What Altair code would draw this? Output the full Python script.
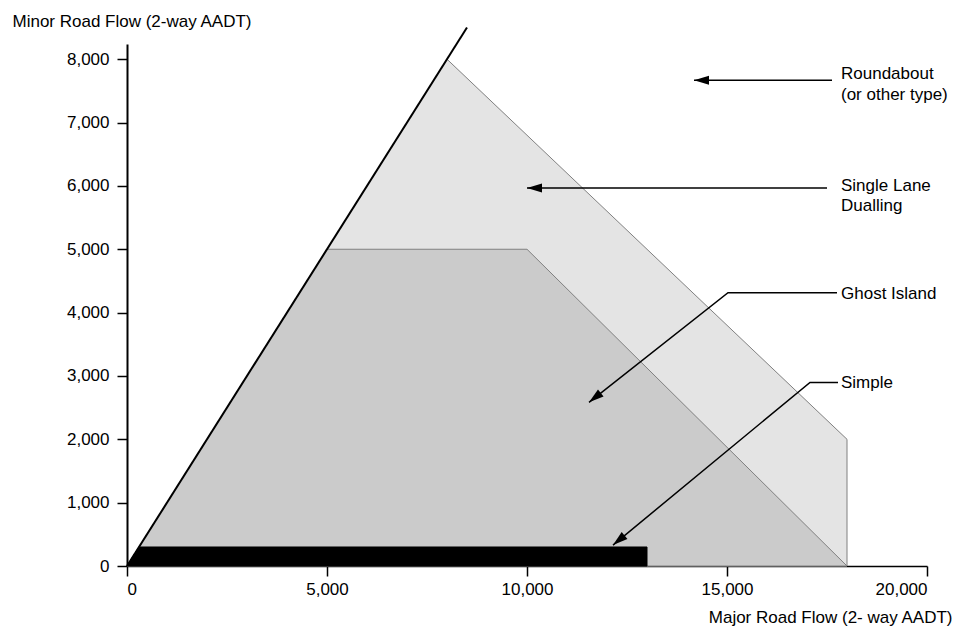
import math
import altair as alt
import pandas as pd

FONT = "Liberation Sans"

# ---- axis ticks ----
x_ticks = [0, 5000, 10000, 15000, 20000]
y_ticks = [0, 1000, 2000, 3000, 4000, 5000, 6000, 7000, 8000]

# ---- junction-type regions (upper boundary of each, lower boundary is 0) ----
dualling_x = [0, 8000, 18000]
dualling_y = [0, 8000, 2000]
ghost_x = [0, 5000, 10000, 18000]
ghost_y = [0, 5000, 5000, 0]
simple_x = [0, 300, 13000]
simple_y = [0, 300, 300]
limit_x = [0, 8500]
limit_y = [0, 8500]

# ---- labels ----
label_text = ["Roundabout", "(or other type)", "Single Lane", "Dualling", "Ghost Island", "Simple"]
label_x = [17850, 17850, 17850, 17850, 17850, 17850]
label_y = [7685, 7354, 5921, 5606, 4220, 2803]

# ---- arrows (polyline vertices, last one is the tip) ----
arrow_names = ["roundabout", "dualling", "ghost", "simple"]
arrow_x = [[17625, 14175], [17500, 10000], [17750, 15025, 11550], [17775, 17075, 12150]]
arrow_y = [[7669, 7669], [5968, 5968], [4315, 4315, 2583], [2898, 2898, 330]]

X_MAX, Y_MAX = 20000, 8240
W, H = 800, 522

x_axis = alt.Axis(values=x_ticks, format=",.0f", title="Major Road Flow (2- way AADT)",
                  titleX=825, titleY=56, titleAlign="right", titleBaseline="alphabetic",
                  labelPadding=5, domainWidth=1.5)
y_axis = alt.Axis(values=y_ticks, format=",.0f", title="Minor Road Flow (2-way AADT)",
                  titleAngle=0, titleX=-115, titleY=-18, titleAlign="left",
                  titleBaseline="alphabetic", labelPadding=8, domainWidth=2)
x_scale = alt.Scale(domain=[0, X_MAX], nice=False)
y_scale = alt.Scale(domain=[0, Y_MAX], nice=False)

xenc = alt.X("x:Q", scale=x_scale, axis=x_axis)
yenc = alt.Y("y:Q", scale=y_scale, axis=y_axis)


def area_layer(xs, ys, fill, stroke):
    df = pd.DataFrame({"x": xs, "y": ys})
    return alt.Chart(df).mark_area(fill=fill, stroke=stroke, strokeWidth=1, opacity=1).encode(
        x=xenc, y=alt.Y("y:Q", stack=None, scale=y_scale, axis=y_axis),
        y2=alt.Y2Datum(0))


dualling = area_layer(dualling_x, dualling_y, "#e4e4e4", "#808080")
ghost = area_layer(ghost_x, ghost_y, "#cbcbcb", "#808080")
simple = area_layer(simple_x, simple_y, "#000000", "#000000")

limit = alt.Chart(pd.DataFrame({"x": limit_x, "y": limit_y})).mark_line(
    color="black", strokeWidth=2).encode(x=xenc, y=yenc)

# arrows
rows, heads = [], []
px_x = W / X_MAX
px_y = H / Y_MAX
for name, xs, ys in zip(arrow_names, arrow_x, arrow_y):
    for i, (a, b) in enumerate(zip(xs, ys)):
        rows.append({"arrow": name, "order": i, "x": a, "y": b})
    dx = (xs[-1] - xs[-2]) * px_x
    dy = -(ys[-1] - ys[-2]) * px_y
    ang = math.degrees(math.atan2(dx, -dy)) % 360
    heads.append({"x": xs[-1], "y": ys[-1], "angle": ang})

arrow_lines = alt.Chart(pd.DataFrame(rows)).mark_line(color="black", strokeWidth=1.5).encode(
    x=xenc, y=yenc, detail="arrow:N", order="order:Q")
arrow_heads = alt.Chart(pd.DataFrame(heads)).mark_point(
    shape="M0,0L-0.3,1L0.3,1Z", filled=True, color="black", size=900, opacity=1, strokeWidth=0
).encode(x=xenc, y=yenc, angle=alt.Angle("angle:Q", scale=None))

texts = alt.Chart(pd.DataFrame({"x": label_x, "y": label_y, "t": label_text})).mark_text(
    align="left", baseline="alphabetic", font=FONT, fontSize=17, color="black").encode(
    x=xenc, y=yenc, text="t:N")

chart = alt.layer(dualling, ghost, simple, limit, arrow_lines, arrow_heads, texts).properties(
    width=W, height=H,
    autosize=alt.AutoSizeParams(type="none"),
    padding={"left": 119, "top": 36, "right": 28, "bottom": 60},
).configure_view(stroke=None).configure_axis(
    grid=False, domainColor="black", tickColor="black", tickWidth=1.5, tickSize=10,
    labelFont=FONT, labelFontSize=17, labelColor="black",
    titleFont=FONT, titleFontSize=17, titleFontWeight="normal", titleColor="black",
)

chart.save("out.html", embed_options={"renderer": "svg", "actions": False})
